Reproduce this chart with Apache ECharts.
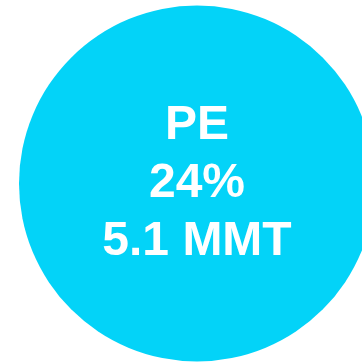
<!DOCTYPE html>
<html>
<head>
<meta charset="utf-8">
<script src="https://cdn.jsdelivr.net/npm/echarts@6/dist/echarts.min.js"></script>
<style>
  html, body { margin: 0; padding: 0; background: #ffffff; }
  #chart { width: 362px; height: 364px; }
</style>
</head>
<body>
<div id="chart"></div>
<script>
// Segment data
const segmentNames = ['PE'];
const segmentShares = [24];      // percent of total
const segmentVolumes = [5.1];    // million metric tonnes

const chart = echarts.init(document.getElementById('chart'), null, { renderer: 'canvas' });

chart.setOption({
  animation: false,
  series: [{
    type: 'pie',
    center: [197, 183.5],
    radius: [0, 178],
    silent: true,
    itemStyle: { color: '#03D3F8' },
    label: {
      show: true,
      position: 'center',
      color: '#ffffff',
      fontFamily: 'Liberation Sans, Arial, sans-serif',
      fontWeight: 'bold',
      fontSize: 48,
      lineHeight: 58,
      formatter: p => p.name + '\n' + segmentShares[p.dataIndex] + '%\n' + p.value + ' MMT'
    },
    labelLine: { show: false },
    data: segmentNames.map((n, i) => ({ name: n, value: segmentVolumes[i] }))
  }]
});
</script>
</body>
</html>
